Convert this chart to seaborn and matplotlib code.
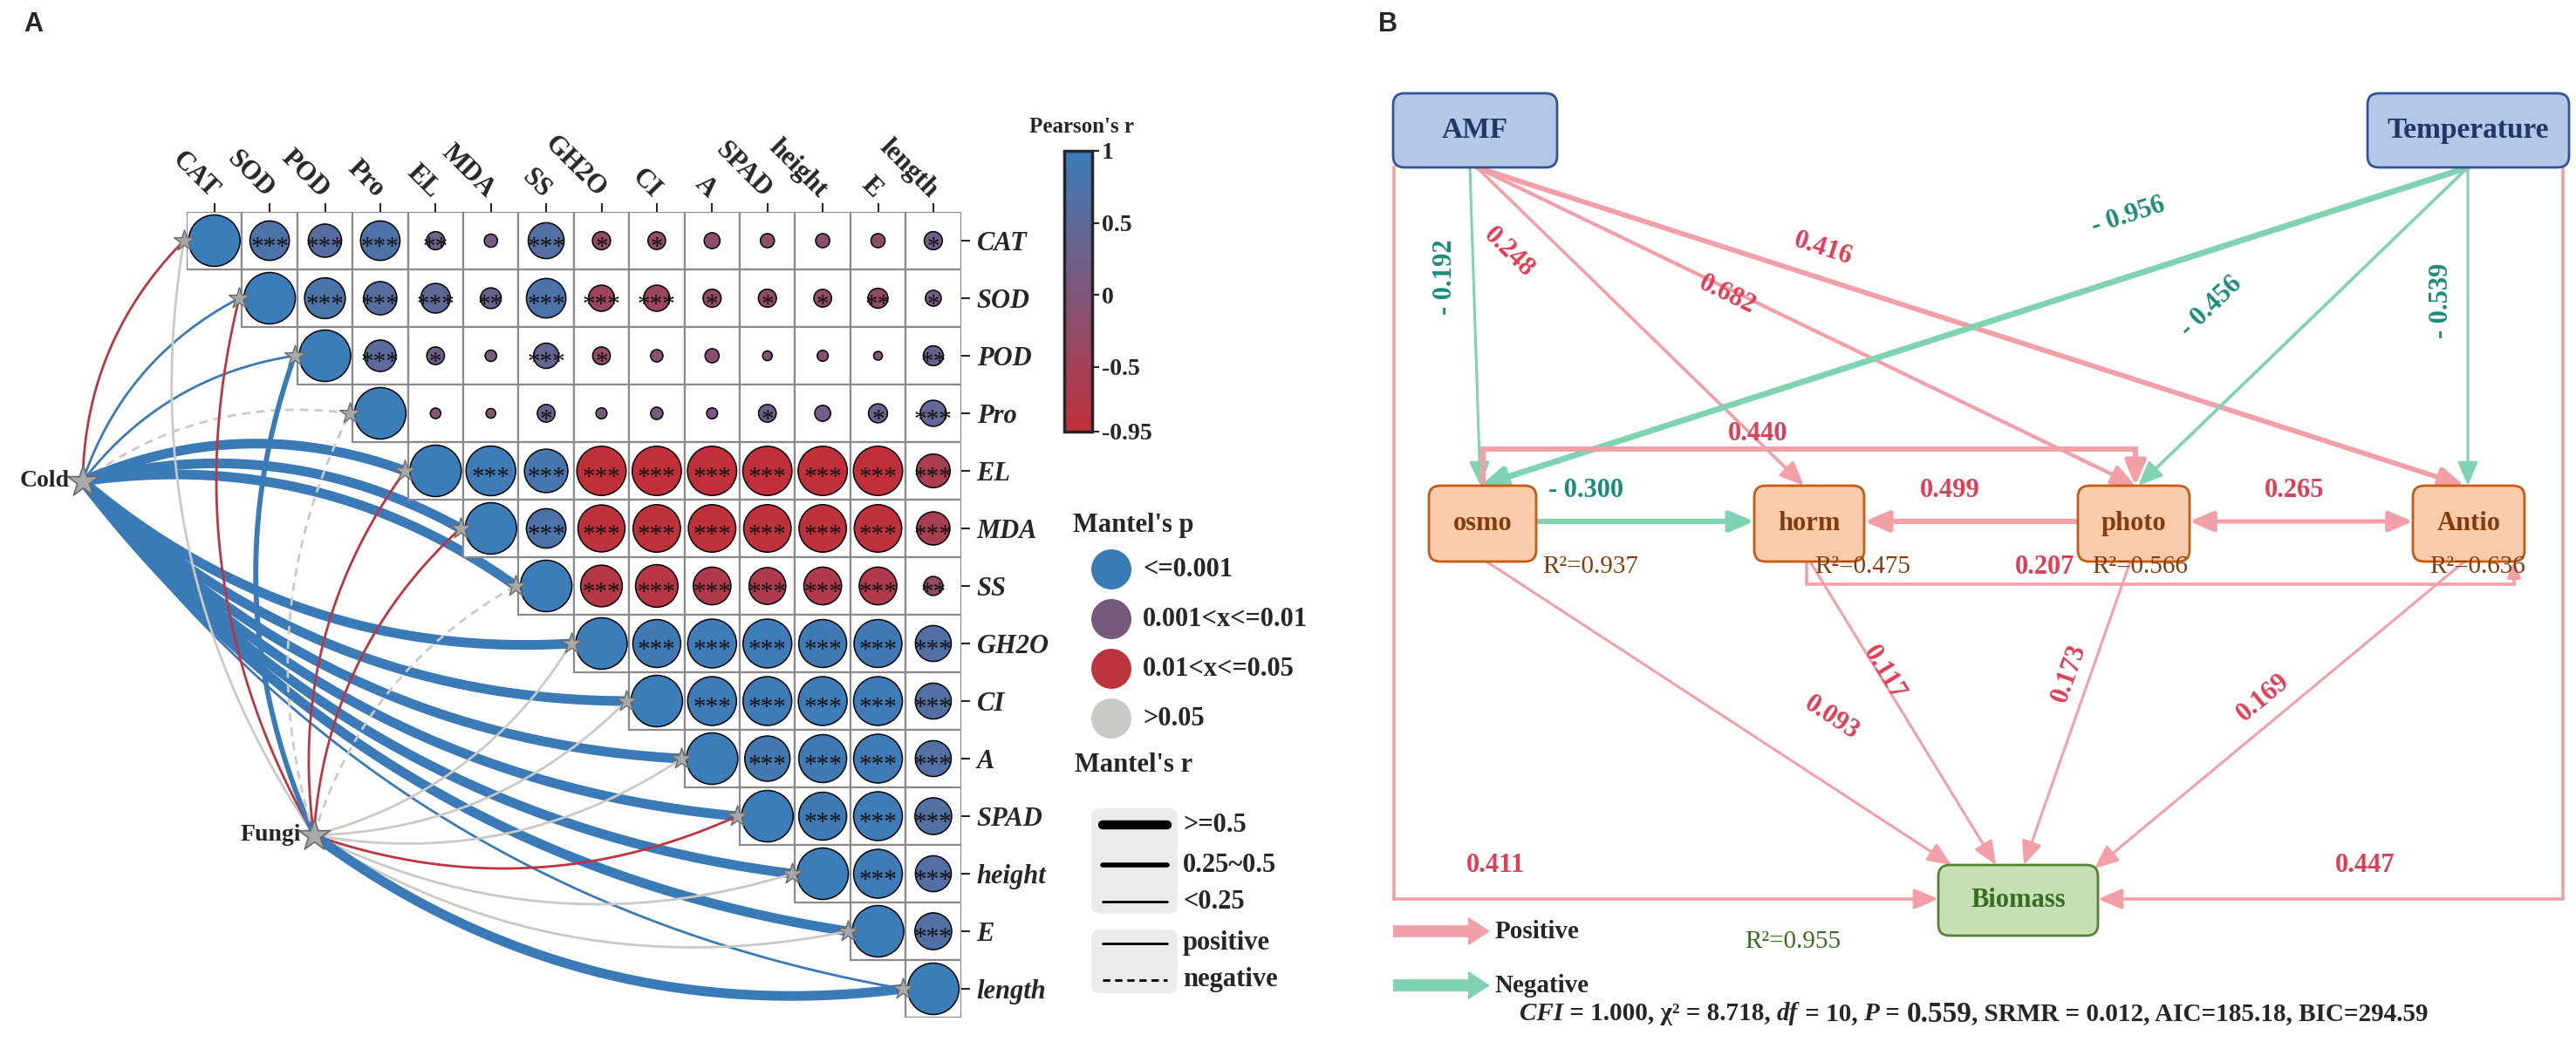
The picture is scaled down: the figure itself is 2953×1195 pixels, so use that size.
import numpy as np
import pandas as pd
import seaborn as sns
import matplotlib
matplotlib.use("Agg")
import matplotlib.pyplot as plt
from matplotlib.colors import LinearSegmentedColormap, Normalize
from matplotlib.cm import ScalarMappable
from matplotlib.patches import Rectangle, FancyBboxPatch

sns.set_style("white")
plt.rcParams["font.family"] = ["Liberation Serif", "DejaVu Serif"]
plt.rcParams["font.weight"] = "bold"

W, H = 2953, 1195

# ---------------- panel A data ----------------
variables = ["CAT", "SOD", "POD", "Pro", "EL", "MDA", "SS", "GH2O",
             "CI", "A", "SPAD", "height", "E", "length"]

# upper triangle of Pearson's r, row by row, starting on the diagonal
pearson_r = [
    [1, 0.73, 0.59, 0.73, 0.25, 0.14, 0.65, -0.25, -0.24, -0.20, -0.16, -0.16, -0.16, 0.25],
    [1, 0.76, 0.59, 0.51, 0.31, 0.73, -0.43, -0.43, -0.25, -0.25, -0.24, -0.29, 0.20],
    [1, 0.55, 0.24, 0.10, 0.41, -0.24, -0.12, -0.16, -0.06, -0.09, -0.04, 0.29],
    [1, -0.08, -0.06, 0.24, 0.09, 0.12, 0.09, 0.24, 0.20, 0.27, 0.43],
    [1, 0.96, 0.82, -0.95, -0.95, -0.95, -0.95, -0.95, -0.95, -0.60],
    [1, 0.73, -0.90, -0.91, -0.91, -0.91, -0.91, -0.91, -0.59],
    [1, -0.78, -0.80, -0.69, -0.67, -0.69, -0.69, -0.27],
    [1, 0.92, 0.94, 0.94, 0.92, 0.92, 0.65],
    [1, 0.94, 0.94, 0.94, 0.94, 0.65],
    [1, 0.86, 0.92, 0.94, 0.65],
    [1, 0.92, 0.94, 0.67],
    [1, 0.94, 0.65],
    [1, 0.67],
    [1],
]
signif = [
    ["", "***", "***", "***", "**", "", "***", "*", "*", "", "", "", "", "*"],
    ["", "***", "***", "***", "**", "***", "***", "***", "*", "*", "*", "**", "*"],
    ["", "***", "*", "", "***", "*", "", "", "", "", "", "**"],
    ["", "", "", "*", "", "", "", "*", "", "*", "***"],
    ["", "***", "***", "***", "***", "***", "***", "***", "***", "***"],
    ["", "***", "***", "***", "***", "***", "***", "***", "***"],
    ["", "***", "***", "***", "***", "***", "***", "**"],
    ["", "***", "***", "***", "***", "***", "***"],
    ["", "***", "***", "***", "***", "***"],
    ["", "***", "***", "***", "***"],
    ["", "***", "***", "***"],
    ["", "***", "***"],
    ["", "***"],
    [""],
]

# Mantel test: p class (index in p_labels), r class (index in r_labels), sign
p_labels = ["<=0.001", "0.001<x<=0.01", "0.01<x<=0.05", ">0.05"]
r_labels = [">=0.5", "0.25~0.5", "<0.25"]
cold_p = [2, 0, 0, 3, 0, 0, 0, 0, 0, 0, 0, 0, 0, 0]
cold_r = [2, 2, 2, 2, 0, 0, 0, 0, 0, 0, 0, 0, 0, 2]
cold_sign = [1, 1, 1, -1, 1, 1, 1, 1, 1, 1, 1, 1, 1, 1]
fungi_p = [3, 2, 0, 3, 2, 2, 3, 3, 3, 3, 2, 3, 3, 0]
fungi_r = [2, 2, 1, 2, 2, 2, 2, 2, 2, 2, 2, 2, 2, 0]
fungi_sign = [1, 1, 1, -1, 1, 1, -1, 1, 1, 1, 1, 1, 1, 1]

# ---------------- panel B data ----------------
nodes = ["AMF", "Temperature", "osmo", "horm", "photo", "Antio", "Biomass"]
r2_nodes = ["osmo", "horm", "photo", "Antio", "Biomass"]
r2_values = [0.937, 0.475, 0.566, 0.636, 0.955]
path_from = ["AMF", "AMF", "AMF", "AMF", "Temperature", "Temperature", "Temperature",
             "osmo", "osmo", "photo", "photo", "horm",
             "osmo", "horm", "photo", "Antio", "AMF", "Temperature"]
path_to = ["osmo", "horm", "photo", "Antio", "osmo", "photo", "Antio",
           "horm", "photo", "horm", "Antio", "Antio",
           "Biomass", "Biomass", "Biomass", "Biomass", "Biomass", "Biomass"]
path_coef = [-0.192, 0.248, 0.682, 0.416, -0.956, -0.456, -0.539,
             -0.300, 0.440, 0.499, 0.265, 0.207,
             0.093, 0.117, 0.173, 0.169, 0.411, 0.447]
fit_names = ["CFI", "χ²", "df", "P", "SRMR", "AIC", "BIC"]
fit_values = ["1.000", "8.718", "10", "0.559", "0.012", "185.18", "294.59"]

# ---------------- styling ----------------
cmap = LinearSegmentedColormap.from_list("rb", ["#C1303A", "#3B7DB9"])
p_colors = ["#3A7AB7", "#765A7C", "#BD343F", "#C9C9C5"]
r_widths = [8.0, 4.2, 2.0]
pink, green = "#F29FA7", "#7FD3B1"
pink_txt, green_txt = "#DE3F57", "#1E8C7A"

fig = plt.figure(figsize=(W / 100, H / 100), dpi=100)
ov = fig.add_axes([0, 0, 1, 1])
ov.set_xlim(0, W)
ov.set_ylim(H, 0)
ov.axis("off")

# ================= panel A =================
n = len(variables)
mx0, my0, cw, ch = 214, 243, 63.4, 66.0
ax = fig.add_axes([mx0 / W, 1 - (my0 + n * ch) / H, n * cw / W, n * ch / H])
ax.set_facecolor("none")

recs = []
for i, (rv, sv) in enumerate(zip(pearson_r, signif)):
    for k, (r, s) in enumerate(zip(rv, sv)):
        recs.append({"x": i + k, "y": i, "r": r, "sig": s})
df = pd.DataFrame(recs)
d_min, d_max = 8, 59
df["area"] = ((d_min + (d_max - d_min) * df["r"].abs()) * 0.72) ** 2
a0, a1 = (d_min * 0.72) ** 2, (d_max * 0.72) ** 2

for _, rw in df.iterrows():
    ax.add_patch(Rectangle((rw.x - 0.5, rw.y - 0.5), 1, 1, facecolor="white",
                           edgecolor="#8A8A8A", lw=1.6, zorder=2))

sns.scatterplot(data=df, x="x", y="y", hue="r", palette=cmap, hue_norm=(-0.95, 1),
                size="area", sizes=(a0, a1), size_norm=(a0, a1),
                edgecolor="black", linewidth=1.1, legend=False, ax=ax, zorder=3)
for _, rw in df.iterrows():
    if rw.sig:
        ax.text(rw.x, rw.y + 0.23, rw.sig, ha="center", va="baseline",
                fontsize=21, fontweight="normal", color="#111111", zorder=4)

ax.set_xlim(-0.5, n - 0.5)
ax.set_ylim(n - 0.5, -0.5)
ax.set_xlabel("")
ax.set_ylabel("")
for sp in ax.spines.values():
    sp.set_visible(False)
ax.xaxis.tick_top()
ax.set_xticks(range(n))
ax.set_xticklabels(variables, rotation=-45, ha="right", va="center",
                   rotation_mode="anchor", fontsize=22, fontweight="bold")
ax.yaxis.tick_right()
ax.set_yticks(range(n))
ax.set_yticklabels(variables, fontsize=22, fontweight="bold", fontstyle="italic")
ax.tick_params(axis="x", length=7, width=1.5, pad=8)
ax.tick_params(axis="y", length=7, width=1.5, pad=6)


def link_curve(src, tgt, side, k=0.2):
    p0 = np.array([src[0] * cw, src[1] * ch])
    p2 = np.array([tgt[0] * cw, tgt[1] * ch])
    d = p2 - p0
    L = np.hypot(*d)
    perp = np.array([d[1], -d[0]]) / L * side
    p1 = (p0 + p2) / 2 + perp * k * L
    t = np.linspace(0, 1, 120)[:, None]
    pts = (1 - t) ** 2 * p0 + 2 * (1 - t) * t * p1 + t ** 2 * p2
    return pts[:, 0] / cw, pts[:, 1] / ch


sources = {"Cold": ((-2.38, 4.18), cold_p, cold_r, cold_sign),
           "Fungi": ((1.80, 10.33), fungi_p, fungi_r, fungi_sign)}
for name, (src, pc, rc, sg) in sources.items():
    for i in range(n):
        xs, ys = link_curve(src, (i - 0.55, i), 1 if i < n // 2 else -1)
        ax.plot(xs, ys, color=p_colors[pc[i]], lw=r_widths[rc[i]],
                ls="-" if sg[i] > 0 else (0, (3.5, 2.5)),
                solid_capstyle="butt", clip_on=False, zorder=1)
for name, (src, pc, rc, sg) in sources.items():
    ax.scatter([src[0]], [src[1]], marker="*", s=750, c="#A8A8A8",
               edgecolors="#6A6A6A", linewidths=1.2, zorder=6, clip_on=False)
    ax.text(src[0] - 0.24, src[1], name, ha="right", va="center", fontsize=20,
            fontweight="bold", clip_on=False)
ax.scatter(np.arange(n) - 0.55, np.arange(n), marker="*", s=330, c="#A8A8A8",
           edgecolors="#6A6A6A", linewidths=1.0, zorder=6, clip_on=False)

# colour bar
cb_top, cb_bot = 173, 495
cax = fig.add_axes([1220 / W, 1 - cb_bot / H, 32 / W, (cb_bot - cb_top) / H])
cb = fig.colorbar(ScalarMappable(norm=Normalize(-0.95, 1), cmap=cmap), cax=cax,
                  ticks=[1, 0.5, 0, -0.5, -0.95])
cb.ax.set_yticklabels(["1", "0.5", "0", "-0.5", "-0.95"], fontsize=20, fontweight="bold")
cb.outline.set_linewidth(2.5)
cb.ax.tick_params(length=6, width=1.5, pad=2)
ov.text(1240, 145, "Pearson's r", ha="center", va="center", fontsize=18)

# Mantel's p legend
ov.text(1230, 602, "Mantel's p", ha="left", va="center", fontsize=22)
leg_y = [653, 710, 767, 824]
ov.scatter([1274] * 4, leg_y, s=(46 * 0.72) ** 2, c=p_colors, linewidths=0)
for y, lab in zip(leg_y, p_labels):
    ov.text(1310, y, lab, ha="left", va="center", fontsize=22)

# Mantel's r legend
ov.text(1232, 877, "Mantel's r", ha="left", va="center", fontsize=22)
ov.add_patch(FancyBboxPatch((1251, 927), 99, 121, boxstyle="round,pad=0,rounding_size=10",
                            fc="#EBEBEB", ec="none"))
for y, lw, lab in zip([946, 992, 1034], [7.5, 4.0, 2.0], r_labels):
    ov.plot([1264, 1338], [y, y], color="black", lw=lw, solid_capstyle="round")
    ov.text(1356, y, lab, ha="left", va="center", fontsize=22)
ov.add_patch(FancyBboxPatch((1251, 1066), 99, 73, boxstyle="round,pad=0,rounding_size=10",
                            fc="#EBEBEB", ec="none"))
ov.plot([1264, 1338], [1082, 1082], color="black", lw=2)
ov.plot([1264, 1338], [1124, 1124], color="black", lw=2, ls=(0, (3, 2)))
ov.text(1356, 1082, "positive", ha="left", va="center", fontsize=22)
ov.text(1356, 1124, "negative", ha="left", va="center", fontsize=22)

ov.text(38, 28, "A", ha="center", va="center", fontsize=22, family="Liberation Sans")
ov.text(1591, 28, "B", ha="center", va="center", fontsize=22, family="Liberation Sans")

# ================= panel B =================
box_xy = {
    "AMF": (1597, 107, 1785, 192),
    "Temperature": (2714, 107, 2945, 192),
    "osmo": (1638, 557, 1761, 644),
    "horm": (2011, 557, 2137, 644),
    "photo": (2382, 557, 2510, 644),
    "Antio": (2766, 557, 2894, 644),
    "Biomass": (2222, 992, 2405, 1073),
}
box_colors = {"AMF": ("#B4C7E7", "#2F5597", "#1F3864", 24),
              "Temperature": ("#B4C7E7", "#2F5597", "#1F3864", 24),
              "Biomass": ("#C5E0B4", "#548235", "#3B6B22", 22)}
for name in nodes:
    x0, y0, x1, y1 = box_xy[name]
    fc, ec, tc, fs = box_colors.get(name, ("#F8CBAD", "#C55A11", "#843C0C", 22))
    ov.add_patch(FancyBboxPatch((x0, y0), x1 - x0, y1 - y0,
                                boxstyle="round,pad=0,rounding_size=13",
                                fc=fc, ec=ec, lw=2, zorder=5))
    ov.text((x0 + x1) / 2, (y0 + y1) / 2, name, ha="center", va="center",
            fontsize=fs, fontweight="bold", color=tc, zorder=6)

r2_pos = {"osmo": (1768, 650), "horm": (2080, 650), "photo": (2398, 650),
          "Antio": (2785, 650), "Biomass": (2000, 1080)}
for name, v in zip(r2_nodes, r2_values):
    c = "#3B6B22" if name == "Biomass" else "#843C0C"
    ov.text(*r2_pos[name], f"R²={v:.3f}", ha="left", va="center", fontsize=21,
            fontweight="normal", color=c, zorder=6)

path_geom = {
    ("AMF", "osmo"): dict(pts=[(1685, 192), (1697, 557)], lw=2.2, lab=(1657, 318), rot=90),
    ("AMF", "horm"): dict(pts=[(1693, 192), (2068, 557)], lw=2.6, lab=(1730, 290)),
    ("AMF", "photo"): dict(pts=[(1693, 192), (2448, 557)], lw=3.0, lab=(1980, 338)),
    ("AMF", "Antio"): dict(pts=[(1693, 192), (2825, 557)], lw=4.2, lab=(2090, 285)),
    ("Temperature", "osmo"): dict(pts=[(2829, 192), (1697, 557)], lw=5.0, lab=(2440, 248)),
    ("Temperature", "photo"): dict(pts=[(2829, 192), (2451, 557)], lw=2.6, lab=(2535, 352)),
    ("Temperature", "Antio"): dict(pts=[(2829, 192), (2829, 557)], lw=2.2, lab=(2798, 345), rot=90),
    ("osmo", "horm"): dict(pts=[(1761, 598), (2011, 598)], lw=4.3, lab=(1818, 562)),
    ("osmo", "photo"): dict(pts=[(1700, 557), (1700, 515), (2448, 515), (2448, 557)], lw=4.3,
                            lab=(2015, 497), rot=0),
    ("photo", "horm"): dict(pts=[(2382, 598), (2137, 598)], lw=4.3, lab=(2235, 562), rot=0),
    ("photo", "Antio"): dict(pts=[(2510, 598), (2766, 598)], lw=3.6, lab=(2630, 562), both=True),
    ("horm", "Antio"): dict(pts=[(2071, 644), (2071, 670), (2882, 670), (2882, 644)], lw=2.6,
                            lab=(2344, 650), rot=0, small=True),
    ("osmo", "Biomass"): dict(pts=[(1704, 644), (2237, 992)], lw=2.2, lab=(2100, 823)),
    ("horm", "Biomass"): dict(pts=[(2075, 644), (2288, 992)], lw=2.2, lab=(2160, 772)),
    ("photo", "Biomass"): dict(pts=[(2442, 644), (2320, 992)], lw=2.2, lab=(2372, 772)),
    ("Antio", "Biomass"): dict(pts=[(2825, 644), (2401, 996)], lw=2.2, lab=(2595, 800)),
    ("AMF", "Biomass"): dict(pts=[(1598, 192), (1598, 1031), (2222, 1031)], lw=2.6,
                             lab=(1714, 992), rot=0),
    ("Temperature", "Biomass"): dict(pts=[(2938, 192), (2938, 1031), (2405, 1031)], lw=2.6,
                                     lab=(2711, 992), rot=0),
}

for a, b, coef in zip(path_from, path_to, path_coef):
    g = path_geom[(a, b)]
    col = pink if coef > 0 else green
    tcol = pink_txt if coef > 0 else green_txt
    pts = np.asarray(g["pts"], float)
    if len(pts) > 2:
        ov.plot(pts[:-1, 0], pts[:-1, 1], color=col, lw=g["lw"],
                solid_capstyle="projecting", solid_joinstyle="miter", zorder=3)
    style = "<|-|>" if g.get("both") else "-|>"
    ms = 14 if g.get("small") else 22
    ov.annotate("", xy=pts[-1], xytext=pts[-2],
                arrowprops=dict(arrowstyle=f"{style},head_length=0.75,head_width=0.32",
                                mutation_scale=ms, lw=g["lw"], color=col,
                                shrinkA=0, shrinkB=0), zorder=3)
    if "rot" in g:
        rot = g["rot"]
    else:
        dx, dy = pts[-1] - pts[0]
        rot = np.degrees(np.arctan2(-dy, dx))
        if rot > 90:
            rot -= 180
        elif rot <= -90:
            rot += 180
    lab = f"- {abs(coef):.3f}" if coef < 0 else f"{coef:.3f}"
    ov.text(*g["lab"], lab, ha="center", va="center", rotation=rot,
            rotation_mode="anchor", fontsize=22, color=tcol, zorder=7)

# legend arrows
for y, col, lab in [(1068, pink, "Positive"), (1130, green, "Negative")]:
    ov.annotate("", xy=(1708, y), xytext=(1597, y),
                arrowprops=dict(arrowstyle="simple,head_length=1.0,head_width=1.3,tail_width=0.55",
                                mutation_scale=18, color=col, lw=0, shrinkA=0, shrinkB=0))
    ov.text(1714, y, lab, ha="left", va="center", fontsize=21)

# fit statistics line, written piece by piece
pieces = [(fit_names[0], "italic", 21), (f" = {fit_values[0]}, {fit_names[1]} = {fit_values[1]}, ", "normal", 21),
          (fit_names[2], "italic", 21), (f" = {fit_values[2]}, ", "normal", 21),
          (fit_names[3], "italic", 21), (" = ", "normal", 21), (fit_values[3], "normal", 24),
          (f", {fit_names[4]} = {fit_values[4]}, {fit_names[5]}={fit_values[5]}, "
           f"{fit_names[6]}={fit_values[6]}", "normal", 21)]
renderer = fig.canvas.get_renderer()
x = 1742
for txt, style, fs in pieces:
    t = ov.text(x, 1163, txt, ha="left", va="center", fontsize=fs, fontstyle=style)
    x += t.get_window_extent(renderer).width

fig.savefig("out.png", dpi=100)
